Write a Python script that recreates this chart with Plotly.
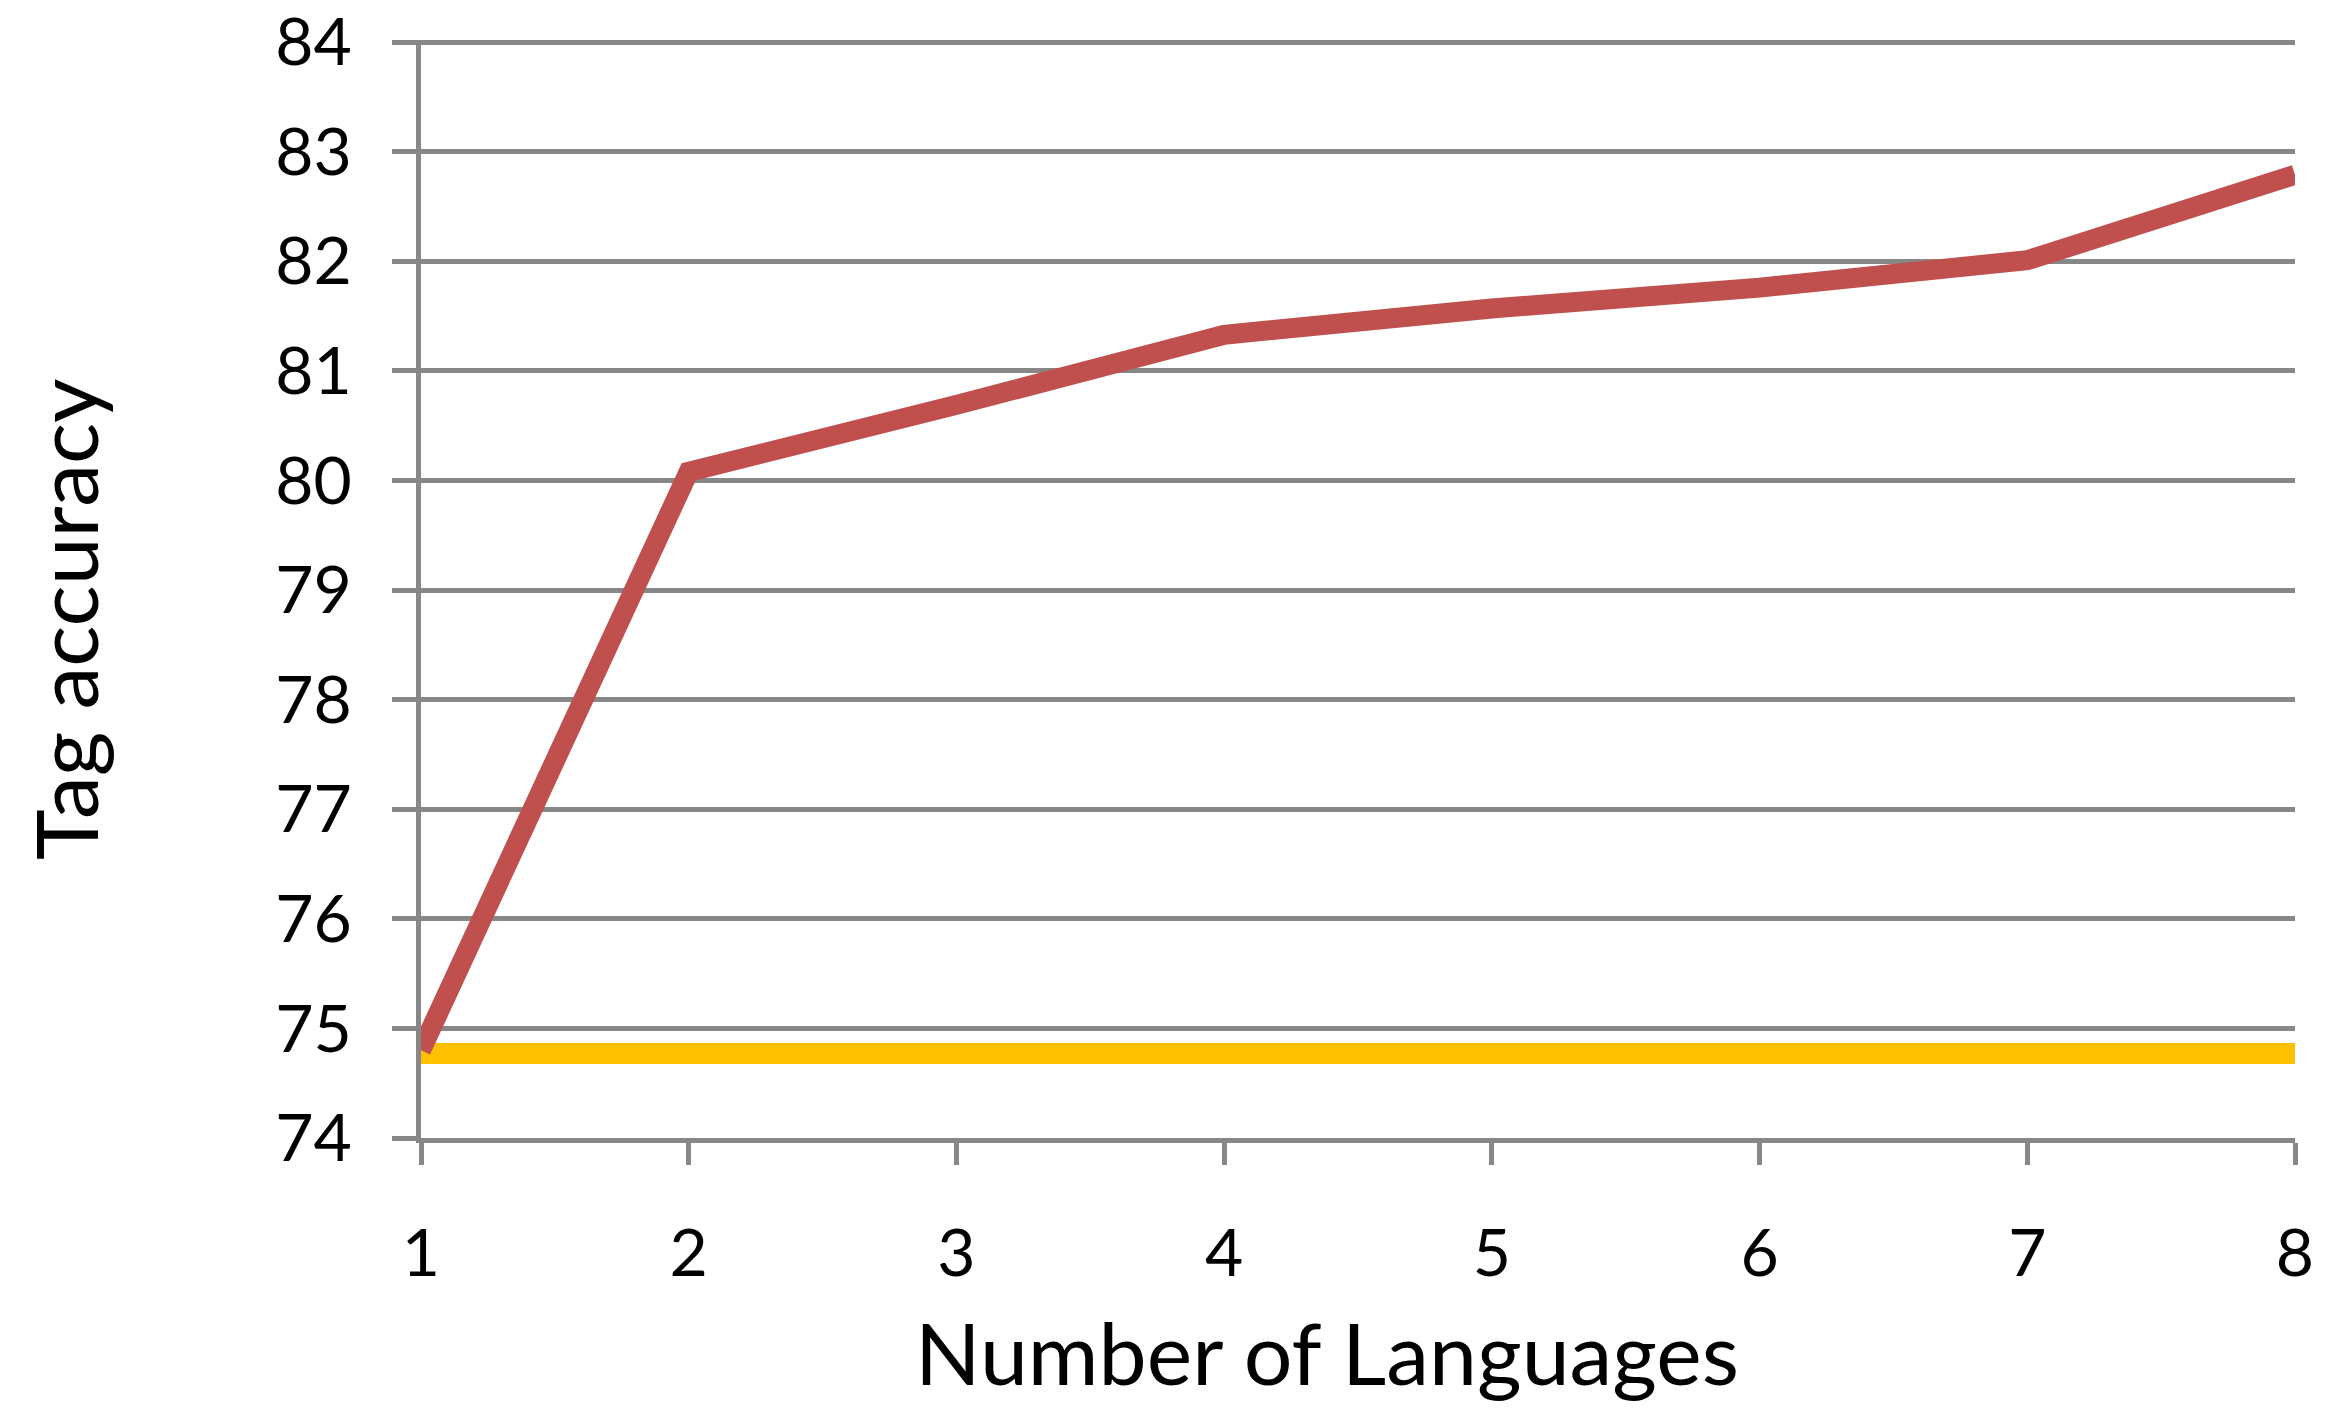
import plotly.graph_objects as go

languages = [1, 2, 3, 4, 5, 6, 7, 8]
multilingual = [74.8, 80.08, 80.69, 81.33, 81.57, 81.76, 82.01, 82.79]
baseline = [74.77, 74.77, 74.77, 74.77, 74.77, 74.77, 74.77, 74.77]
y_ticks = [74, 75, 76, 77, 78, 79, 80, 81, 82, 83, 84]

GRID = "#878787"
FONT = "Lato, Calibri, sans-serif"

fig = go.Figure()
fig.add_trace(go.Scatter(x=languages, y=baseline, mode="lines",
                         line=dict(color="#FFC000", width=21), showlegend=False))
fig.add_trace(go.Scatter(x=languages, y=multilingual, mode="lines",
                         line=dict(color="#C0504D", width=20), showlegend=False))

fig.update_layout(
    width=2331, height=1413,
    margin=dict(l=421, r=36, t=40, b=275, autoexpand=False),
    paper_bgcolor="white", plot_bgcolor="white",
    font=dict(family=FONT, color="black"),
    showlegend=False,
    annotations=[
        dict(text="Number of Languages", xref="paper", yref="paper",
             x=0.4835, y=-0.146, xanchor="center", yanchor="top",
             showarrow=False, font=dict(size=86, family=FONT)),
        dict(text="Tag accuracy", xref="paper", yref="paper",
             x=-0.19, y=0.4727, xanchor="center", yanchor="middle",
             textangle=-90, showarrow=False, font=dict(size=86, family=FONT)),
    ],
)
fig.update_xaxes(
    range=[1, 8], tickvals=languages, ticktext=[str(v) for v in languages],
    showgrid=False, zeroline=False, automargin=False,
    showline=True, linecolor=GRID, linewidth=5,
    ticks="outside", ticklen=22, tickwidth=5, tickcolor=GRID,
    tickfont=dict(size=66, family=FONT), ticklabelstandoff=32,
    ticklabeloverflow="allow",
)
fig.update_yaxes(
    range=[74, 84.02], tickvals=y_ticks,
    showgrid=True, gridcolor=GRID, gridwidth=5, zeroline=False, automargin=False,
    showline=True, linecolor=GRID, linewidth=5,
    ticks="outside", ticklen=24, tickwidth=5, tickcolor=GRID,
    tickfont=dict(size=66, family=FONT), ticklabelstandoff=27,
    ticklabeloverflow="allow",
)

fig.write_html("out.html",
               config={"displayModeBar": False},
               post_script="document.body.style.margin='0';document.body.style.overflow='hidden';")
